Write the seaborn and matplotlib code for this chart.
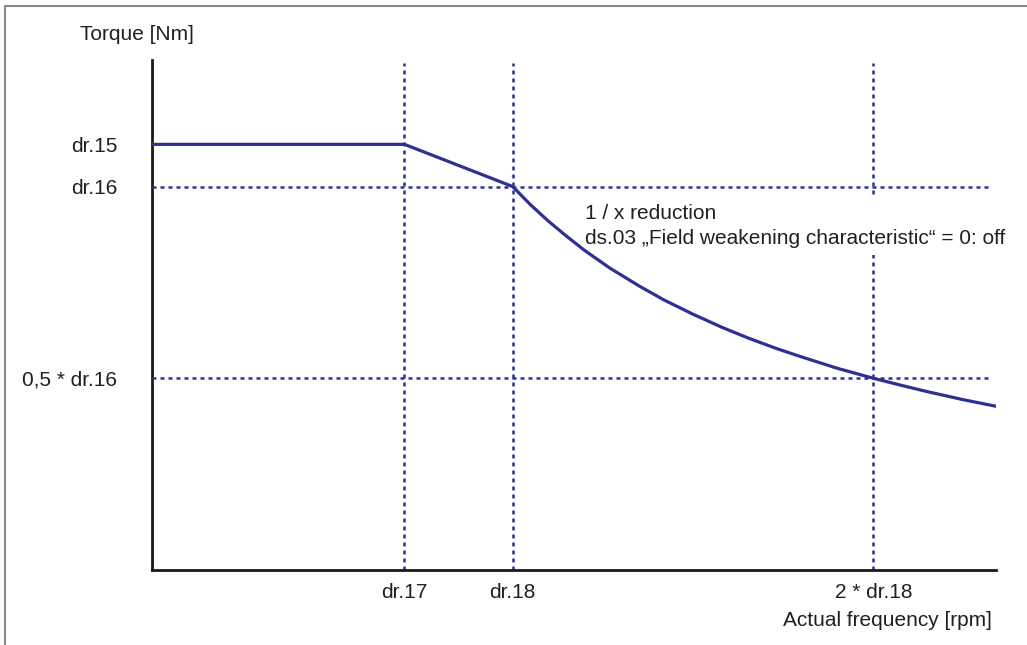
import matplotlib
matplotlib.use("Agg")
import matplotlib.pyplot as plt
import matplotlib.lines as mlines
import pandas as pd
import seaborn as sns

# Characteristic points (normalised: dr.18 = 1, dr.16 = 1)
x_ticks = [0.70, 1.0, 2.0]
x_labels = ["dr.17", "dr.18", "2 * dr.18"]
y_ticks = [1.11, 1.0, 0.5]
y_labels = ["dr.15", "dr.16", "0,5 * dr.16"]

# Torque curve
freq = [0.0, 0.70, 1.0, 1.05, 1.1, 1.15, 1.2, 1.27, 1.35, 1.42, 1.5, 1.58,
        1.65, 1.73, 1.8, 1.9, 2.0, 2.08, 2.15, 2.25, 2.34]
torque = [1.11, 1.11, 1.0, 0.952, 0.909, 0.87, 0.833, 0.787, 0.741, 0.704,
          0.667, 0.633, 0.606, 0.578, 0.556, 0.526, 0.5, 0.481, 0.465, 0.444, 0.427]

x_max = 2.34
y_max = 1.33

BLUE = "#2e3192"
TEXT = "#231f20"
FS = 15


def plot_torque():
    sns.set_style("white")
    plt.rcParams["font.family"] = ["Liberation Sans", "DejaVu Sans"]

    fig = plt.figure(figsize=(10.27, 6.45), dpi=100)
    W, H = 1027, 645
    ax = fig.add_axes([152 / W, (H - 570) / H, (996 - 152) / W, (570 - 60) / H])

    df = pd.DataFrame({"freq": freq, "torque": torque})
    sns.lineplot(data=df, x="freq", y="torque", color=BLUE, linewidth=2.3,
                 sort=False, ax=ax, zorder=5)

    # dotted guide lines
    dots = (0, (1.6, 1.6))
    for xv in x_ticks:
        ax.axvline(xv, ymin=0, ymax=0.995, color=BLUE, linestyle=dots,
                   linewidth=1.8, zorder=2)
    for yv in y_ticks[1:]:
        ax.axhline(yv, xmin=0, xmax=0.995, color=BLUE, linestyle=dots,
                   linewidth=1.8, zorder=4.5)

    ax.set_xlim(0, x_max)
    ax.set_ylim(0, y_max)

    ax.set_xticks(x_ticks)
    ax.set_xticklabels(x_labels, fontsize=FS, color=TEXT)
    ax.set_yticks(y_ticks)
    ax.set_yticklabels(y_labels, fontsize=FS, color=TEXT)
    ax.tick_params(axis="x", length=0, pad=9)
    ax.tick_params(axis="y", length=0, pad=25)

    for side in ["top", "right"]:
        ax.spines[side].set_visible(False)
    for side in ["left", "bottom"]:
        ax.spines[side].set_color("#1a1a1a")
        ax.spines[side].set_linewidth(2)

    ax.set_xlabel("")
    ax.set_ylabel("")

    # labels
    fig.text(80 / W, 1 - 35 / H, "Torque [Nm]", fontsize=FS, va="center", ha="left",
             color=TEXT)
    fig.text(992 / W, 1 - 620 / H, "Actual frequency [rpm]", fontsize=FS,
             va="center", ha="right", color=TEXT)

    # annotation with white box (hides the dotted line behind it)
    ax.text(585 / W, 1 - 204 / H,
            "1 / x reduction\nds.03 \u201eField weakening characteristic\u201c = 0: off",
            transform=fig.transFigure, fontsize=FS, va="top", ha="left",
            color=TEXT, linespacing=1.42, clip_on=False, zorder=4,
            bbox=dict(facecolor="white", edgecolor="none", pad=5))

    # page frame (left and top edges)
    fig.add_artist(mlines.Line2D([5 / W, 5 / W], [0, 1 - 6 / H], color="#8a8a8a",
                                 linewidth=1.5, transform=fig.transFigure))
    fig.add_artist(mlines.Line2D([5 / W, 1], [1 - 6 / H, 1 - 6 / H], color="#8a8a8a",
                                 linewidth=1.5, transform=fig.transFigure))

    fig.savefig("out.png", dpi=100)


plot_torque()
